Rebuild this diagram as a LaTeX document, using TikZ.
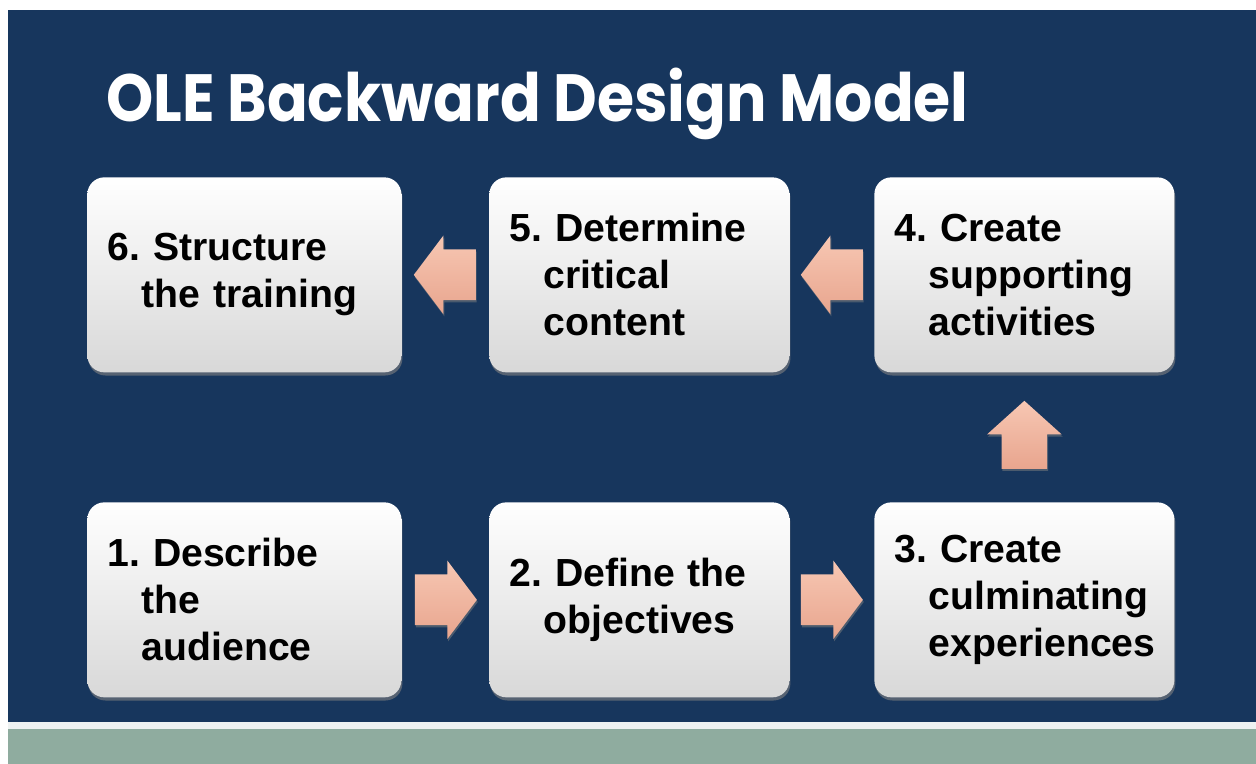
\documentclass[tikz,border=0pt]{standalone}
\usepackage{fontspec}
\setmainfont{Liberation Sans}
\newfontfamily\titlefont[FakeStretch=0.9]{Poppins}
\usetikzlibrary{positioning,calc,shapes.arrows,shadows}

\definecolor{navy}{HTML}{17365D}
\definecolor{sage}{HTML}{8FAC9F}
\definecolor{paleline}{HTML}{EEF2F2}
\definecolor{boxgray}{HTML}{D8D8D8}
\definecolor{salmonlight}{HTML}{F7C7B3}
\definecolor{salmondark}{HTML}{E8A58E}

\hyphenpenalty=10000
\frenchspacing
\newcommand{\stepfont}{\fontsize{22.3}{26.8}\selectfont\bfseries}
\newcommand{\hangbreak}{\\\hspace*{0.69cm}}

\tikzstyle{model_box}=[rectangle, rounded corners=0.34cm, anchor=north west, minimum height=3.9cm, text width=5.2cm, inner xsep=0.4cm, inner ysep=0pt, align=left, top color=white, middle color=white!96!boxgray, bottom color=boxgray, drop shadow={shadow xshift=0.6pt,shadow yshift=-1.8pt,opacity=0.6}, font=\stepfont]
\tikzstyle{model_box_wide}=[model_box, text width=5.48cm]
\tikzstyle{flow_arrow}=[single arrow, anchor=tip, minimum height=1.24cm, single arrow head extend=0.28cm, single arrow tip angle=106, inner xsep=0pt, inner ysep=0.5cm, top color=salmonlight, bottom color=salmondark, drop shadow={shadow xshift=0.5pt,shadow yshift=-1.2pt,opacity=0.5}]
\tikzstyle{flow_arrow_up}=[flow_arrow, shape border rotate=90, minimum height=1.36cm, inner xsep=0.45cm, inner ysep=0pt, single arrow head extend=0.29cm, single arrow tip angle=96]

\begin{document}
\begin{tikzpicture}

    \useasboundingbox (0,0) rectangle (25.12,15.28);

    % Slide background
    \fill[white] (0,0) rectangle (25.12,15.28);
    \fill[navy] (0.16,0.83) rectangle (25.12,15.08);
    \fill[paleline] (0.16,0.70) rectangle (25.12,0.83);
    \fill[sage] (0.16,0) rectangle (25.12,0.70);

    % Title
    \node[anchor=base west, inner sep=0pt, text=white, font=\titlefont\bfseries\fontsize{38}{46}\selectfont] (title) at (2.12,12.84) {OLE Backward Design Model};

    % Top row
    \node[model_box_wide] (structure) at (1.74,11.74) {6. Structure\hangbreak the training};
    \node[model_box] (content) at (9.78,11.74) {5. Determine\hangbreak critical\hangbreak content};
    \node[model_box] (activities) at (17.48,11.74) {4. Create\hangbreak supporting\hangbreak activities};

    % Bottom row
    \node[model_box_wide] (audience) at (1.74,5.24) {1. Describe\hangbreak the\hangbreak audience};
    \node[model_box] (objectives) at (9.78,5.24) {2. Define the\hangbreak objectives};
    \node[model_box] (experiences) at (17.48,5.24) {3. Create\hangbreak culminating\hangbreak experiences};

    % Block arrows between the steps (placed by their tips)
    \node[flow_arrow] (arrow_12) at ($(audience.east)!0.5!(objectives.west)+(0.64,0)$) {};
    \node[flow_arrow] (arrow_23) at ($(objectives.east)!0.5!(experiences.west)+(0.63,0)$) {};
    \node[flow_arrow_up] (arrow_34) at ($(experiences.north)!0.5!(activities.south)+(0,0.74)$) {};
    \node[flow_arrow, shape border rotate=180] (arrow_45) at ($(activities.west)!0.5!(content.east)+(-0.63,0)$) {};
    \node[flow_arrow, shape border rotate=180] (arrow_56) at ($(content.west)!0.5!(structure.east)+(-0.64,0)$) {};

\end{tikzpicture}
\end{document}
